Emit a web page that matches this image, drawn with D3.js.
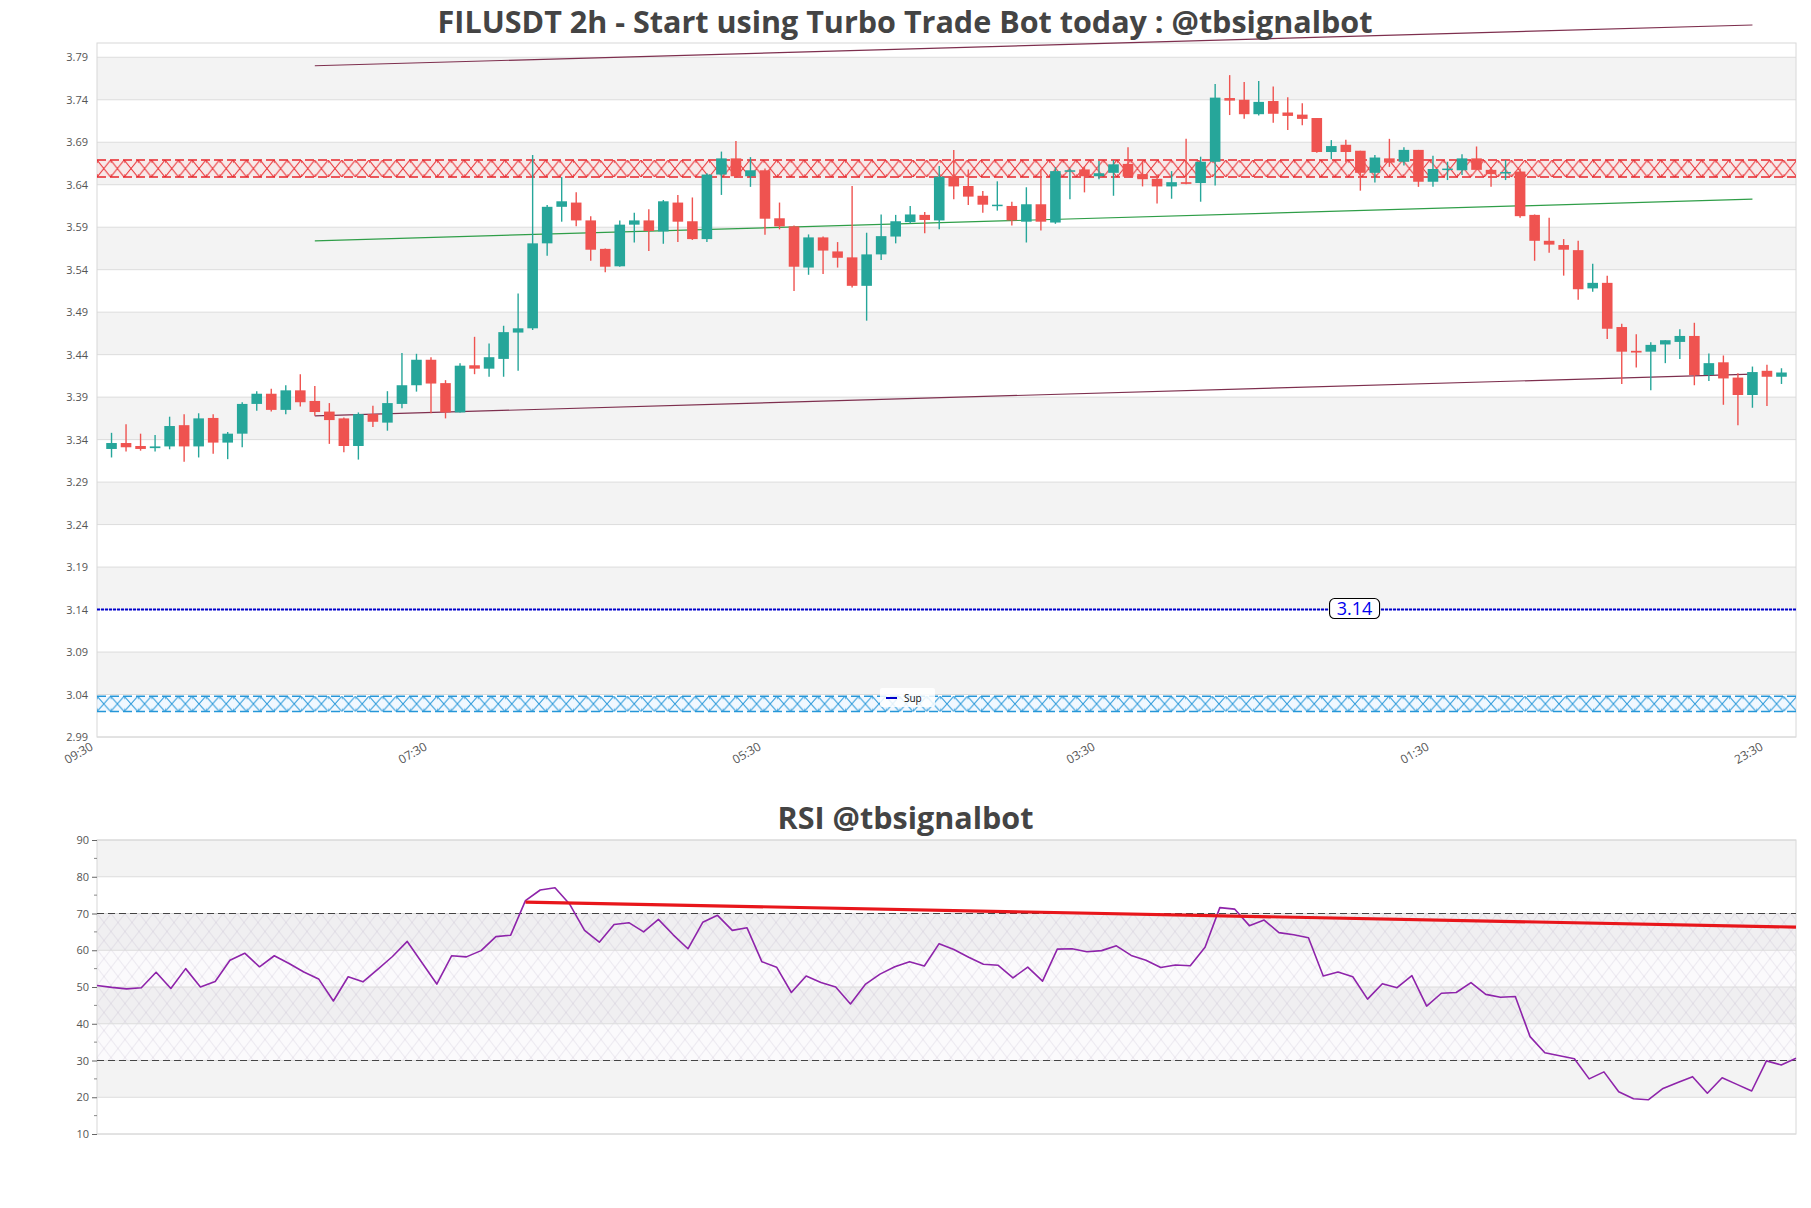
<!DOCTYPE html>
<html><head><meta charset="utf-8">
<script src="https://cdn.jsdelivr.net/npm/d3@7"></script>
<style>
body{margin:0;background:#fff}
svg{display:block}
text{font-family:"Open Sans","Noto Sans",sans-serif}
</style>
</head><body>
<svg id="c" width="1811" height="1208"></svg>
<script>
// ---------------- data ----------------
const timeLabels = ["09:30","07:30","05:30","03:30","01:30","23:30"];
const timeLabelIndex = [-1,22,45,68,91,114];
const priceTickLabels = ["2.99","3.04","3.09","3.14","3.19","3.24","3.29","3.34","3.39","3.44","3.49","3.54","3.59","3.64","3.69","3.74","3.79"];
const rsiTickLabels = [10,20,30,40,50,60,70,80,90];

const opens = [3.329,3.336,3.3325,3.330,3.332,3.357,3.332,3.3655,3.3365,3.347,
3.382,3.394,3.375,3.398,3.3855,3.373,3.365,3.3325,3.370,3.360,
3.382,3.404,3.434,3.4065,3.372,3.4275,3.4235,3.435,3.466,3.471,
3.571,3.614,3.619,3.598,3.5645,3.544,3.593,3.598,3.585,3.619,
3.597,3.576,3.652,3.671,3.650,3.657,3.6005,3.591,3.5425,3.578,
3.5615,3.5545,3.521,3.558,3.579,3.596,3.6045,3.598,3.650,3.6385,
3.627,3.6155,3.615,3.5965,3.617,3.5955,3.656,3.658,3.650,3.654,
3.6645,3.6525,3.647,3.638,3.643,3.642,3.667,3.742,3.740,3.723,
3.7385,3.725,3.7225,3.7185,3.6785,3.687,3.680,3.654,3.671,3.667,
3.681,3.6435,3.658,3.657,3.671,3.6575,3.654,3.6555,3.6045,3.574,
3.569,3.563,3.518,3.5245,3.4725,3.4445,3.4435,3.452,3.455,3.462,
3.416,3.431,3.413,3.3925,3.421,3.414];
const highs = [3.348,3.358,3.347,3.3455,3.367,3.370,3.371,3.370,3.349,3.384,
3.397,3.400,3.404,3.417,3.403,3.383,3.366,3.372,3.380,3.397,
3.442,3.441,3.437,3.410,3.430,3.461,3.453,3.474,3.512,3.675,
3.616,3.649,3.631,3.603,3.565,3.598,3.607,3.611,3.622,3.628,
3.625,3.6535,3.679,3.6915,3.6725,3.659,3.619,3.592,3.5815,3.579,
3.5725,3.6385,3.5835,3.605,3.6045,3.615,3.608,3.662,3.681,3.658,
3.6325,3.644,3.620,3.637,3.658,3.6605,3.659,3.662,3.668,3.669,
3.684,3.668,3.652,3.656,3.694,3.673,3.7585,3.769,3.761,3.762,
3.7555,3.743,3.736,3.7185,3.6925,3.693,3.680,3.675,3.694,3.684,
3.681,3.674,3.667,3.676,3.685,3.661,3.669,3.659,3.605,3.601,
3.576,3.574,3.547,3.533,3.4765,3.464,3.4545,3.457,3.470,3.4775,
3.4415,3.439,3.418,3.426,3.428,3.424];
const lows = [3.319,3.326,3.327,3.326,3.3286,3.314,3.319,3.3235,3.317,3.331,
3.374,3.373,3.370,3.379,3.368,3.335,3.325,3.3165,3.355,3.3505,
3.377,3.3965,3.371,3.365,3.372,3.417,3.414,3.414,3.421,3.469,
3.5565,3.5965,3.591,3.5505,3.537,3.5435,3.572,3.562,3.5705,3.5725,
3.575,3.5725,3.628,3.6485,3.6375,3.581,3.5875,3.515,3.534,3.535,
3.5425,3.519,3.480,3.5515,3.571,3.5945,3.583,3.5875,3.623,3.616,
3.607,3.6095,3.592,3.572,3.586,3.594,3.623,3.631,3.6465,3.627,
3.6495,3.638,3.618,3.6235,3.6405,3.620,3.639,3.722,3.7175,3.7215,
3.713,3.7045,3.710,3.6775,3.670,3.6665,3.633,3.6425,3.661,3.6625,
3.6375,3.6375,3.6455,3.6515,3.6575,3.6375,3.6455,3.601,3.5505,3.560,
3.533,3.5045,3.514,3.4585,3.4055,3.425,3.398,3.430,3.435,3.404,
3.409,3.381,3.357,3.3775,3.3795,3.4055];
const closes = [3.336,3.331,3.329,3.332,3.356,3.332,3.365,3.3365,3.347,3.382,
3.394,3.375,3.398,3.384,3.3725,3.363,3.3325,3.370,3.361,3.383,
3.404,3.434,3.406,3.372,3.427,3.4235,3.437,3.4665,3.471,3.571,
3.614,3.6205,3.598,3.5635,3.5435,3.593,3.598,3.5855,3.6205,3.5965,
3.576,3.652,3.671,3.650,3.657,3.600,3.591,3.5435,3.578,3.5625,
3.554,3.521,3.558,3.5795,3.597,3.605,3.5985,3.6495,3.638,3.626,
3.6165,3.6165,3.598,3.617,3.5965,3.656,3.657,3.650,3.6535,3.664,
3.6495,3.6465,3.638,3.643,3.641,3.667,3.7425,3.739,3.723,3.7375,
3.7235,3.721,3.7175,3.6785,3.6855,3.6785,3.654,3.672,3.666,3.681,
3.6435,3.6585,3.659,3.671,3.6575,3.6525,3.655,3.603,3.574,3.5695,
3.5635,3.517,3.5245,3.4705,3.4435,3.4425,3.4515,3.457,3.462,3.416,
3.430,3.412,3.3925,3.4195,3.414,3.419];

const rsi = [50.4,49.9,49.5,49.8,54.0,49.6,55.0,50.0,51.5,57.3,
59.2,55.5,58.5,56.4,54.1,52.2,46.2,52.8,51.4,54.8,
58.3,62.4,56.6,50.8,58.5,58.2,59.9,63.7,64.1,73.5,
76.4,77.0,72.5,65.4,62.2,67.0,67.5,65.0,68.4,64.2,
60.4,67.6,69.5,65.4,66.1,56.9,55.4,48.5,53.0,51.2,
50.0,45.4,50.7,53.5,55.5,56.9,55.7,61.8,60.2,58.1,
56.2,55.9,52.5,55.4,51.6,60.3,60.4,59.6,59.9,61.2,
58.6,57.3,55.3,56.0,55.8,60.8,71.6,71.2,66.7,68.2,
64.8,64.2,63.4,53.0,54.1,52.8,46.7,50.9,49.8,53.1,
44.8,48.3,48.5,51.2,48.0,47.2,47.4,36.5,32.1,31.3,
30.5,25.0,26.9,21.5,19.6,19.3,22.4,24.0,25.6,21.1,
25.3,23.5,21.7,29.9,28.8,30.6];

// trend lines: [startIndex, startValue, endIndex, endValue]
const upperTrend = [14, 3.780, 113, 3.828];
const middleTrend = [14, 3.574, 113, 3.623];
const lowerTrend = [14, 3.368, 113, 3.417];
const resistanceZone = [3.649, 3.669];
const supportZone = [3.020, 3.038];
const supportLevel = 3.14;
const rsiTrend = [29, 73.1, 115, 66.3];
const rsiLevels = [30, 70];

// ---------------- chart ----------------
const svg = d3.select('#c');
const defs = svg.append('defs');
const M = {left:97, right:1796, top:43, bottom:737};
const x = d3.scaleLinear().domain([-1,116]).range([M.left, M.right]);
const y = d3.scaleLinear().domain([2.99, 3.8068]).range([M.bottom, M.top]);
const up = '#26a69a', dn = '#ef5350';

// bands
const tickVals = priceTickLabels.map(Number);
const bandEdges = tickVals.concat([y.domain()[1]]);
svg.append('g').selectAll('rect').data(d3.range(bandEdges.length-1)).join('rect')
  .attr('x', M.left).attr('width', M.right-M.left)
  .attr('y', k => y(bandEdges[k+1])).attr('height', k => y(bandEdges[k]) - y(bandEdges[k+1]))
  .attr('fill', k => k % 2 === 1 ? '#f3f3f3' : '#ffffff');
// gridlines
svg.append('g').selectAll('line').data(tickVals).join('line')
  .attr('x1', M.left).attr('x2', M.right).attr('y1', d => y(d)).attr('y2', d => y(d))
  .attr('stroke', '#dcdcdc').attr('stroke-width', 1);
svg.append('rect').attr('x', M.left).attr('y', M.top).attr('width', M.right-M.left).attr('height', M.bottom-M.top)
  .attr('fill','none').attr('stroke','#d8d8d8');

// y axis labels
const yAxis = d3.axisLeft(y).tickValues(tickVals).tickFormat((d,i)=>priceTickLabels[i]).tickSize(0).tickPadding(9);
const gy = svg.append('g').attr('transform', `translate(${M.left},0)`).call(yAxis);
gy.select('.domain').remove();
gy.selectAll('text').attr('font-size', 11).attr('fill', '#555').attr('font-family','"Open Sans",sans-serif');

// x labels
svg.append('g').selectAll('text').data(timeLabels).join('text')
  .attr('transform', (d,i) => `translate(${x(timeLabelIndex[i]) - 3},${M.bottom + 12}) rotate(-30)`)
  .attr('text-anchor','end').attr('font-size', 12).attr('fill','#555').text(d => d);

// hatch zones
function zone(id, z, color, bg) {
  const y0 = y(z[1]), y1 = y(z[0]), h = y1 - y0, w = 13.6;
  const p = defs.append('pattern').attr('id', id).attr('patternUnits','userSpaceOnUse')
    .attr('x', M.left).attr('y', y0).attr('width', w).attr('height', h);
  p.append('rect').attr('width', w).attr('height', h).attr('fill', bg);
  p.append('path').attr('d', `M0,0L${w},${h}M${w},0L0,${h}`).attr('stroke', color).attr('stroke-width', 1).attr('fill','none');
  p.append('path').attr('d', `M0,0V3M0,${h}V${h-3}`).attr('stroke', color).attr('stroke-width', 1.2);
  svg.append('rect').attr('x', M.left).attr('y', y0).attr('width', M.right-M.left).attr('height', h)
    .attr('fill', `url(#${id})`);
  [y0, y1].forEach(yy => svg.append('line').attr('x1', M.left).attr('x2', M.right).attr('y1', yy).attr('y2', yy)
    .attr('stroke', color).attr('stroke-width', 1.5).attr('stroke-dasharray','9,4'));
}
zone('resHatch', resistanceZone, '#e8262b', 'rgba(255,215,215,0.35)');
zone('supHatch', supportZone, '#2596d8', 'rgba(215,235,255,0.35)');

// support level dotted line
svg.append('line').attr('x1', M.left).attr('x2', M.right).attr('y1', y(supportLevel)).attr('y2', y(supportLevel))
  .attr('stroke', '#0000cc').attr('stroke-width', 2).attr('stroke-dasharray', '3,1');

// trend lines
function trend(t, color, w) {
  svg.append('line').attr('x1', x(t[0])).attr('y1', y(t[1])).attr('x2', x(t[2])).attr('y2', y(t[3]))
    .attr('stroke', color).attr('stroke-width', w);
}
trend(upperTrend, '#7e2f4e', 1.2);
trend(middleTrend, '#2f9e48', 1.2);
trend(lowerTrend, '#7e2f4e', 1.2);

// candles
const idx = d3.range(opens.length);
const cg = svg.append('g');
cg.selectAll('line').data(idx).join('line')
  .attr('x1', i => x(i)).attr('x2', i => x(i)).attr('y1', i => y(highs[i])).attr('y2', i => y(lows[i]))
  .attr('stroke', i => closes[i] >= opens[i] ? up : dn).attr('stroke-width', 1.4);
const bw = (x(1) - x(0)) * 0.73;
cg.selectAll('rect').data(idx).join('rect')
  .attr('x', i => x(i) - bw/2).attr('width', bw)
  .attr('y', i => y(Math.max(opens[i], closes[i])))
  .attr('height', i => Math.max(1.5, Math.abs(y(opens[i]) - y(closes[i]))))
  .attr('fill', i => closes[i] >= opens[i] ? up : dn);

// level label 3.14
const lbl = svg.append('g').attr('transform', `translate(${x(85.6)},${y(supportLevel) - 1})`);
lbl.append('rect').attr('x', -25).attr('y', -10).attr('width', 50).attr('height', 20).attr('rx', 5)
  .attr('fill', '#fff').attr('stroke', '#000').attr('stroke-width', 1.1);
lbl.append('text').attr('text-anchor','middle').attr('dy','0.36em').attr('font-size', 18).attr('fill','#0000ee')
  .attr('font-family','"DejaVu Sans",sans-serif').text(supportLevel.toFixed(2));

// legend
const lg = svg.append('g').attr('transform', `translate(880,688)`);
lg.append('rect').attr('width', 55).attr('height', 19).attr('rx', 2).attr('fill', 'rgba(255,255,255,0.85)');
lg.append('line').attr('x1', 6).attr('x2', 17).attr('y1', 10).attr('y2', 10).attr('stroke', '#0000cc').attr('stroke-width', 2);
lg.append('text').attr('x', 24).attr('y', 13.5).attr('font-size', 10).attr('fill', '#111').text('Sup');

// titles
function title(txt, cx, base, targetW) {
  const t = svg.append('text').attr('x', cx).attr('y', base).attr('text-anchor','middle')
    .attr('font-weight', 700).attr('font-size', 28).attr('fill', '#444').text(txt);
  const L = t.node().getComputedTextLength();
  t.attr('font-size', 28 * targetW / L);
}
title('FILUSDT 2h - Start using Turbo Trade Bot today : @tbsignalbot', 905, 32.5, 935);
title('RSI @tbsignalbot', 905.5, 829, 256);

// ---------------- RSI panel ----------------
const R = {left:97, right:1796, top:840, bottom:1134};
const xr = d3.scaleLinear().domain([0, rsi.length-1]).range([R.left, R.right]);
const yr = d3.scaleLinear().domain([10, 90]).range([R.bottom, R.top]);
svg.append('g').selectAll('rect').data(d3.range(rsiTickLabels.length-1)).join('rect')
  .attr('x', R.left).attr('width', R.right-R.left)
  .attr('y', k => yr(rsiTickLabels[k+1])).attr('height', k => yr(rsiTickLabels[k]) - yr(rsiTickLabels[k+1]))
  .attr('fill', k => k % 2 === 1 ? '#f3f3f3' : '#ffffff');
const rp = defs.append('pattern').attr('id','rsiHatch').attr('patternUnits','userSpaceOnUse')
  .attr('x', R.left).attr('y', yr(70)).attr('width', 14).attr('height', 18);
rp.append('path').attr('d','M0,0L14,18M14,0L0,18').attr('stroke','rgba(140,120,160,0.22)').attr('stroke-width',0.8).attr('fill','none');
svg.append('rect').attr('x', R.left).attr('width', R.right-R.left).attr('y', yr(70)).attr('height', yr(30)-yr(70))
  .attr('fill','rgba(215,205,225,0.10)');
svg.append('rect').attr('x', R.left).attr('width', R.right-R.left).attr('y', yr(70)).attr('height', yr(30)-yr(70))
  .attr('fill','url(#rsiHatch)');
svg.append('g').selectAll('line').data(rsiTickLabels).join('line')
  .attr('x1', R.left).attr('x2', R.right).attr('y1', d => yr(d)).attr('y2', d => yr(d))
  .attr('stroke', '#dcdcdc');
svg.append('rect').attr('x', R.left).attr('y', R.top).attr('width', R.right-R.left).attr('height', R.bottom-R.top)
  .attr('fill','none').attr('stroke','#d8d8d8');
svg.append('g').selectAll('line').data(rsiLevels).join('line')
  .attr('x1', R.left).attr('x2', R.right).attr('y1', d => yr(d)).attr('y2', d => yr(d))
  .attr('stroke', '#444').attr('stroke-width', 1.2).attr('stroke-dasharray', '7,4');

const ry = d3.axisLeft(yr).tickValues(rsiTickLabels).tickSize(5).tickPadding(3);
const gry = svg.append('g').attr('transform', `translate(${R.left},0)`).call(ry);
gry.select('.domain').remove();
gry.selectAll('line').attr('stroke', '#666');
gry.selectAll('text').attr('font-size', 11).attr('fill', '#555').attr('font-family','"Open Sans",sans-serif');
const minor = d3.range(15, 90, 10);
svg.append('g').selectAll('line').data(minor).join('line')
  .attr('x1', R.left - 3).attr('x2', R.left).attr('y1', d => yr(d)).attr('y2', d => yr(d)).attr('stroke', '#888');

svg.append('path').datum(rsi)
  .attr('d', d3.line().x((d,i) => xr(i)).y(d => yr(d)))
  .attr('fill','none').attr('stroke','#8e24aa').attr('stroke-width', 1.6).attr('stroke-linejoin','round');
svg.append('line').attr('x1', xr(rsiTrend[0])).attr('y1', yr(rsiTrend[1])).attr('x2', xr(rsiTrend[2])).attr('y2', yr(rsiTrend[3]))
  .attr('stroke', '#e8161b').attr('stroke-width', 3.2);
</script>
</body></html>
